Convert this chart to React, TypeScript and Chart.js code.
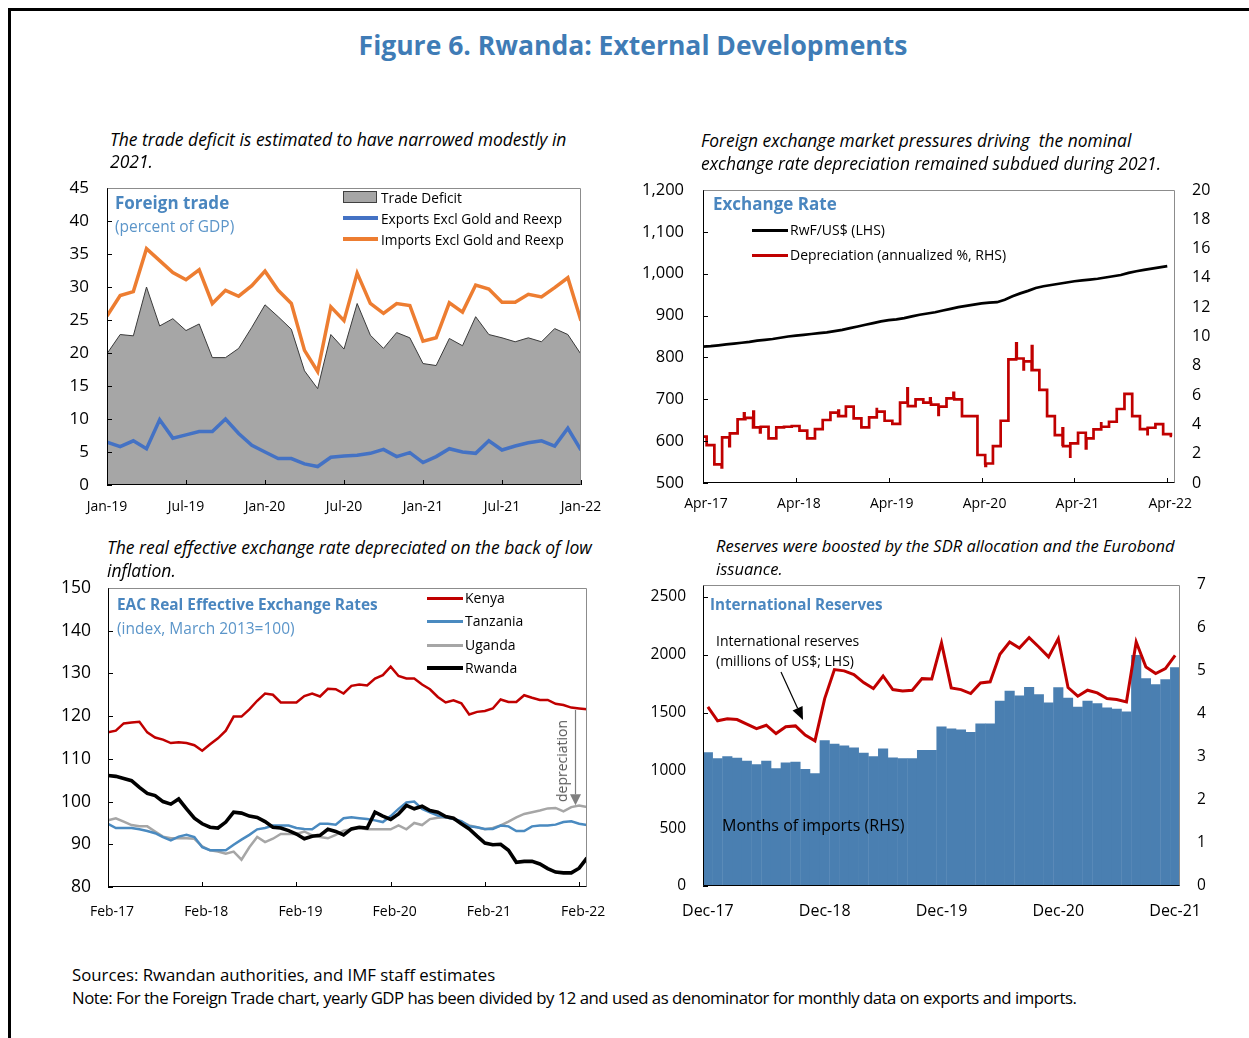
import React, { useEffect, useRef } from 'react';
import { Chart, registerables } from 'chart.js';

Chart.register(...registerables);

const FONT = "'Open Sans', 'DejaVu Sans', sans-serif";
const TITLE_BLUE = '#3F7CB6';
const PANEL_BLUE = '#4A86BF';
const SUB_BLUE = '#5B95C9';

// ---------- Panel 1: Foreign trade (percent of GDP), monthly Jan-19 .. Jan-22 ----------
const tradeTickLabels = ['Jan-19', 'Jul-19', 'Jan-20', 'Jul-20', 'Jan-21', 'Jul-21', 'Jan-22'];
const tradeDeficit = [19.9, 22.8, 22.6, 30.0, 24.1, 25.2, 23.4, 24.4, 19.3, 19.3, 20.7, 23.9, 27.3, 25.5, 23.6, 17.3, 14.6, 22.8, 20.6, 27.5, 22.7, 20.7, 23.1, 22.3, 18.4, 18.1, 22.2, 21.1, 25.5, 22.8, 22.3, 21.7, 22.3, 21.7, 23.7, 22.8, 19.8];
const tradeExports = [6.5, 5.8, 6.7, 5.5, 9.9, 7.1, 7.6, 8.1, 8.1, 10.0, 7.8, 6.0, 5.0, 4.0, 4.0, 3.2, 2.8, 4.2, 4.4, 4.5, 4.8, 5.4, 4.3, 4.9, 3.4, 4.3, 5.5, 5.0, 4.8, 6.7, 5.3, 5.9, 6.4, 6.7, 5.9, 8.6, 5.3];
const tradeImports = [25.6, 28.7, 29.3, 35.8, 34.0, 32.2, 31.1, 32.6, 27.5, 29.5, 28.6, 30.2, 32.4, 29.5, 27.5, 20.4, 17.2, 27.0, 24.9, 32.1, 27.5, 26.0, 27.5, 27.2, 21.8, 22.3, 27.6, 26.2, 30.3, 29.7, 27.7, 27.7, 28.9, 28.5, 29.9, 31.4, 24.9];

// ---------- Panel 2: Exchange rate, monthly from Apr-17 ----------
const fxTickLabels = ['Apr-17', 'Apr-18', 'Apr-19', 'Apr-20', 'Apr-21', 'Apr-22'];
const fxRate = [826, 827, 829, 831, 833, 835, 837, 840, 842, 844, 847, 850, 852, 854, 856, 858, 860, 863, 866, 870, 874, 878, 882, 886, 889, 891, 894, 898, 902, 905, 908, 912, 916, 920, 923, 926, 929, 931, 932, 938, 946, 953, 959, 966, 970, 973, 976, 979, 982, 984, 986, 988, 991, 994, 997, 1002, 1006, 1009, 1012, 1015, 1018];
// annualized depreciation (%), one level per month (levels change mid-month)
const depreciation = [3.16, 2.59, 1.27, 3.11, 3.39, 4.35, 4.45, 3.80, 3.84, 3.04, 3.80, 3.84, 3.89, 3.57, 3.04, 3.68, 4.30, 4.80, 4.57, 5.21, 4.41, 3.80, 4.48, 4.87, 4.25, 4.03, 5.48, 5.25, 5.71, 5.48, 5.35, 5.21, 5.78, 5.71, 4.57, 4.57, 1.91, 1.33, 2.52, 4.25, 8.44, 8.50, 8.30, 7.71, 6.35, 4.57, 3.27, 2.52, 2.70, 3.43, 3.04, 3.66, 3.84, 4.18, 5.05, 6.08, 4.57, 3.68, 3.77, 4.02, 3.34, 3.21];
// short-lived daily spikes (month since Apr-17, value)
const depSpikeMonths = [2.41, 3.40, 5.30, 6.51, 7.37, 17.50, 22.46, 26.42, 29.35, 30.43, 32.37, 36.50, 40.48, 41.43, 42.50, 46.47, 47.46, 49.48, 51.46, 57.45];
const depSpikeValues = [1.07, 2.52, 4.75, 4.87, 3.45, 4.94, 5.05, 6.46, 5.78, 4.64, 6.16, 1.16, 9.53, 7.76, 9.35, 3.73, 1.80, 2.36, 4.07, 3.34];

// ---------- Panel 3: EAC REER, monthly Feb-17 .. Mar-22 ----------
const reerTickLabels = ['Feb-17', 'Feb-18', 'Feb-19', 'Feb-20', 'Feb-21', 'Feb-22'];
const reerKenya = [116.2, 116.6, 118.3, 118.5, 118.7, 116.2, 115.0, 114.5, 113.7, 113.9, 113.7, 113.2, 111.9, 113.4, 114.8, 116.6, 119.9, 119.9, 121.6, 123.6, 125.3, 125.0, 123.2, 123.2, 123.2, 124.7, 125.3, 124.6, 126.4, 126.3, 125.3, 127.1, 127.4, 127.2, 128.8, 129.6, 131.6, 129.4, 128.8, 128.8, 127.4, 126.3, 124.5, 123.2, 123.7, 123.0, 120.4, 121.0, 121.2, 121.8, 123.9, 123.3, 123.3, 124.9, 124.3, 123.8, 123.8, 122.9, 122.6, 122.0, 121.8, 121.6];
const reerTanzania = [94.8, 93.8, 93.8, 93.8, 93.5, 93.1, 92.6, 91.7, 90.9, 91.8, 92.2, 91.7, 89.3, 88.6, 88.6, 88.6, 89.9, 91.1, 92.2, 93.5, 93.8, 94.4, 94.4, 94.4, 93.8, 93.6, 93.5, 94.8, 94.8, 94.6, 96.1, 96.3, 96.1, 95.9, 95.6, 95.2, 96.6, 98.3, 99.8, 100.0, 98.3, 97.5, 96.7, 96.3, 95.9, 95.4, 94.2, 94.0, 93.6, 93.6, 94.4, 94.2, 93.1, 93.1, 94.2, 94.4, 94.4, 94.6, 95.2, 95.4, 94.8, 94.5];
const reerUganda = [95.6, 96.1, 95.3, 94.5, 94.2, 94.2, 93.0, 91.8, 91.4, 91.4, 91.4, 91.3, 89.5, 88.6, 88.3, 87.8, 88.3, 86.4, 89.3, 91.7, 90.5, 91.3, 92.4, 92.4, 92.4, 93.0, 92.1, 91.7, 91.4, 92.2, 93.2, 93.5, 93.8, 93.5, 93.5, 93.5, 93.5, 94.4, 93.5, 95.0, 94.5, 95.9, 96.2, 96.3, 95.9, 95.3, 94.4, 94.0, 93.5, 93.8, 94.4, 95.3, 96.3, 97.1, 97.5, 97.9, 98.4, 98.5, 97.7, 98.7, 99.1, 98.7];
const reerRwanda = [106.1, 105.9, 105.4, 104.9, 103.3, 101.9, 101.4, 100.0, 99.4, 100.6, 98.3, 96.1, 94.8, 94.0, 93.8, 95.2, 97.5, 97.3, 96.6, 96.3, 95.3, 94.0, 93.8, 93.2, 92.4, 91.3, 91.9, 92.1, 93.5, 93.0, 92.2, 93.6, 94.0, 93.8, 97.5, 96.6, 95.8, 97.1, 99.1, 98.3, 98.9, 97.9, 97.5, 96.5, 96.1, 94.8, 93.6, 91.9, 90.3, 89.9, 90.0, 88.6, 85.8, 86.0, 86.0, 85.4, 84.3, 83.5, 83.3, 83.3, 84.4, 86.8];

// ---------- Panel 4: International reserves, monthly Dec-17 .. Dec-21 ----------
const MONTH_NAMES = ['Jan', 'Feb', 'Mar', 'Apr', 'May', 'Jun', 'Jul', 'Aug', 'Sep', 'Oct', 'Nov', 'Dec'];
const resTickLabels = ['Dec-17', 'Dec-18', 'Dec-19', 'Dec-20', 'Dec-21'];
const reservesUSD = [1550, 1429, 1446, 1440, 1400, 1362, 1391, 1319, 1377, 1385, 1305, 1256, 1621, 1872, 1861, 1829, 1760, 1708, 1817, 1699, 1688, 1694, 1794, 1791, 2103, 1714, 1699, 1665, 1757, 1766, 2005, 2111, 2059, 2149, 2068, 1982, 2140, 1717, 1642, 1694, 1671, 1622, 1613, 1593, 2111, 1895, 1838, 1881, 1996];
const monthsOfImports = [3.11, 2.97, 3.02, 2.98, 2.91, 2.83, 2.91, 2.74, 2.87, 2.89, 2.72, 2.62, 3.39, 3.31, 3.27, 3.22, 3.10, 3.02, 3.20, 2.99, 2.97, 2.97, 3.16, 3.16, 3.71, 3.66, 3.64, 3.58, 3.78, 3.78, 4.31, 4.54, 4.43, 4.63, 4.46, 4.27, 4.62, 4.38, 4.17, 4.31, 4.25, 4.15, 4.12, 4.06, 5.37, 4.83, 4.69, 4.81, 5.09];
const resCategories = reservesUSD.map((_, i) => `${MONTH_NAMES[(11 + i) % 12]}-${17 + Math.floor((11 + i) / 12)}`);

Chart.defaults.font.family = FONT;
Chart.defaults.color = '#000';

const pts = (arr: number[]) => arr.map((y, x) => ({ x, y }));
const range = (a: number, b: number, s: number) => { const r: number[] = []; for (let v = a; v <= b + 1e-9; v += s) r.push(v); return r; };
const fixedTicks = (values: number[]) => (scale: any) => { scale.ticks = values.map((v) => ({ value: v })); };
const fitY = (w: number) => (s: any) => { s.width = w; s.paddingTop = 0; s.paddingBottom = 0; };
const fitX = (h: number) => (s: any) => { s.height = h; s.paddingLeft = 0; s.paddingRight = 0; };

function depSeries() {
  const base = depreciation.map((v, k) => ({ x: k === 0 ? 0 : k - 0.53, y: v }));
  base.push({ x: 60.62, y: depreciation[depreciation.length - 1] });
  const valueAt = (x: number) => { let v = base[0].y; for (const p of base) if (p.x <= x) v = p.y; return v; };
  const spikes: { x: number; y: number }[] = [];
  depSpikeMonths.forEach((m, i) => {
    spikes.push({ x: m, y: depSpikeValues[i] });
    spikes.push({ x: m + 0.07, y: valueAt(m + 0.07) });
  });
  return [...base, ...spikes].sort((a, b) => a.x - b.x);
}

const common = (top: number, right: number) => ({
  animation: false,
  responsive: false,
  maintainAspectRatio: false,
  devicePixelRatio: 1,
  events: [],
  layout: { padding: { top, right, left: 0, bottom: 0 } },
  plugins: { legend: { display: false }, tooltip: { enabled: false } },
  elements: { point: { radius: 0 } },
});

function framePlugin(cfg: { tickLen: number; xTicks: boolean; yTicks: boolean; ticksBehind?: boolean; extra?: (c: any) => void }) {
  const drawTicks = (chart: any) => {
    const { ctx, chartArea: a } = chart;
    ctx.save();
    ctx.strokeStyle = '#000';
    ctx.lineWidth = 1;
    ctx.beginPath();
    if (cfg.xTicks) {
      const xs = chart.scales.x;
      xs.ticks.forEach((t: any, i: number) => {
        if (t.label == null || t.label === '') return;
        const px = Math.round(xs.getPixelForTick(i)) + 0.5;
        ctx.moveTo(px, a.bottom);
        ctx.lineTo(px, a.bottom - cfg.tickLen);
      });
    }
    if (cfg.yTicks) {
      const ys = chart.scales.y;
      ys.ticks.forEach((_t: any, i: number) => {
        const py = Math.round(ys.getPixelForTick(i)) + 0.5;
        ctx.moveTo(a.left, py);
        ctx.lineTo(a.left + cfg.tickLen, py);
      });
    }
    ctx.stroke();
    ctx.restore();
  };
  const drawFrame = (chart: any) => {
    const { ctx, chartArea: a } = chart;
    const top = Math.round(a.top) + 0.5;
    const right = Math.round(a.right) - 0.5;
    const left = Math.round(a.left) + 0.5;
    const bottom = Math.round(a.bottom) - 0.5;
    ctx.save();
    ctx.lineWidth = 1;
    ctx.strokeStyle = '#8C8C8C';
    ctx.beginPath();
    ctx.moveTo(left, top);
    ctx.lineTo(right, top);
    ctx.lineTo(right, bottom);
    ctx.stroke();
    ctx.strokeStyle = '#000';
    ctx.beginPath();
    ctx.moveTo(left, top);
    ctx.lineTo(left, bottom);
    ctx.lineTo(right, bottom);
    ctx.stroke();
    ctx.restore();
  };
  return {
    id: 'frame',
    beforeDatasetsDraw(chart: any) { if (cfg.ticksBehind) drawTicks(chart); },
    afterDatasetsDraw(chart: any) {
      if (!cfg.ticksBehind) drawTicks(chart);
      drawFrame(chart);
      if (cfg.extra) cfg.extra(chart);
    },
  };
}

function arrow(ctx: any, x0: number, y0: number, x1: number, y1: number, color: string, len: number, half: number, lw: number) {
  const dx = x1 - x0, dy = y1 - y0;
  const d = Math.hypot(dx, dy);
  const ux = dx / d, uy = dy / d;
  const bx = x1 - ux * len, by = y1 - uy * len;
  ctx.save();
  ctx.strokeStyle = color;
  ctx.fillStyle = color;
  ctx.lineWidth = lw;
  ctx.beginPath();
  ctx.moveTo(x0, y0);
  ctx.lineTo(bx, by);
  ctx.stroke();
  ctx.beginPath();
  ctx.moveTo(x1, y1);
  ctx.lineTo(bx - uy * half, by + ux * half);
  ctx.lineTo(bx + uy * half, by - ux * half);
  ctx.closePath();
  ctx.fill();
  ctx.restore();
}

const noGrid = { display: false, drawTicks: false, tickLength: 0 };
const noBorder = { display: false };

// canvas placements (page pixels)
const P1 = { left: 30, top: 168, width: 581, height: 357 };
const P2 = { left: 620, top: 170, width: 600, height: 353 };
const P3 = { left: 30, top: 568, width: 587, height: 359 };
const P4 = { left: 620, top: 565, width: 605, height: 366 };

function tradeConfig() {
  return {
    type: 'line',
    data: {
      datasets: [
        { data: pts(tradeImports), borderColor: '#ED7D31', borderWidth: 3.5, pointRadius: 0, fill: false, order: 0 },
        { data: pts(tradeExports), borderColor: '#4472C4', borderWidth: 3.5, pointRadius: 0, fill: false, order: 1 },
        { data: pts(tradeDeficit), borderColor: '#3A3A3A', borderWidth: 1, backgroundColor: '#A6A6A6', fill: 'origin', pointRadius: 0, order: 2 },
      ],
    },
    options: {
      ...common(20, 30),
      scales: {
        x: {
          type: 'linear', min: 0, max: 36, grid: noGrid, border: noBorder,
          afterBuildTicks: fixedTicks(range(0, 36, 6)),
          afterFit: fitX(40),
          ticks: { font: { size: 14 }, padding: 14, maxRotation: 0, autoSkip: false, callback: (_v: any, i: number) => tradeTickLabels[i] },
        },
        y: {
          min: 0, max: 45, grid: noGrid, border: noBorder,
          afterBuildTicks: fixedTicks(range(0, 45, 5)),
          afterFit: fitY(77),
          ticks: { font: { size: 17 }, padding: 18, callback: (v: number) => String(v) },
        },
      },
    },
    plugins: [framePlugin({ tickLen: 5, xTicks: true, yTicks: true })],
  };
}

function fxConfig() {
  return {
    type: 'line',
    data: {
      datasets: [
        { data: pts(fxRate), yAxisID: 'y', borderColor: '#000', borderWidth: 2.7, pointRadius: 0, fill: false, order: 0 },
        { data: depSeries(), yAxisID: 'y2', borderColor: '#C00000', borderWidth: 2.7, stepped: true, pointRadius: 0, fill: false, order: 1 },
      ],
    },
    options: {
      ...common(20, 0),
      scales: {
        x: {
          type: 'linear', min: 0, max: 61, grid: noGrid, border: noBorder,
          afterBuildTicks: fixedTicks(range(0, 60, 12)),
          afterFit: fitX(40),
          ticks: { font: { size: 14 }, padding: 13, labelOffset: 3, maxRotation: 0, autoSkip: false, callback: (_v: any, i: number) => fxTickLabels[i] },
        },
        y: {
          position: 'left', min: 500, max: 1200, grid: noGrid, border: noBorder,
          afterBuildTicks: fixedTicks(range(500, 1200, 100)),
          afterFit: fitY(83),
          ticks: { font: { size: 16.5 }, padding: 19, callback: (v: number) => v.toLocaleString('en-US') },
        },
        y2: {
          position: 'right', min: 0, max: 20, grid: noGrid, border: noBorder,
          afterBuildTicks: fixedTicks(range(0, 20, 2)),
          afterFit: fitY(45),
          ticks: { font: { size: 16 }, padding: 17, callback: (v: number) => String(v) },
        },
      },
    },
    plugins: [framePlugin({ tickLen: 5, xTicks: true, yTicks: true })],
  };
}

function reerConfig() {
  return {
    type: 'line',
    data: {
      datasets: [
        { data: pts(reerRwanda), borderColor: '#000', borderWidth: 3.6, pointRadius: 0, fill: false, order: 0 },
        { data: pts(reerKenya), borderColor: '#C00000', borderWidth: 2.5, pointRadius: 0, fill: false, order: 1 },
        { data: pts(reerTanzania), borderColor: '#4A8AC0', borderWidth: 2.5, pointRadius: 0, fill: false, order: 2 },
        { data: pts(reerUganda), borderColor: '#A6A6A6', borderWidth: 2.5, pointRadius: 0, fill: false, order: 3 },
      ],
    },
    options: {
      ...common(20, 30),
      scales: {
        x: {
          type: 'linear', min: 0, max: 61, grid: noGrid, border: noBorder,
          afterBuildTicks: fixedTicks(range(0, 60, 12)),
          afterFit: fitX(40),
          ticks: { font: { size: 14 }, padding: 17, labelOffset: 4, maxRotation: 0, autoSkip: false, callback: (_v: any, i: number) => reerTickLabels[i] },
        },
        y: {
          min: 80, max: 150, grid: noGrid, border: noBorder,
          afterBuildTicks: fixedTicks(range(80, 150, 10)),
          afterFit: fitY(78),
          ticks: { font: { size: 17.5 }, padding: 17, callback: (v: number) => String(v) },
        },
      },
    },
    plugins: [framePlugin({
      tickLen: 5, xTicks: true, yTicks: true,
      extra: (chart: any) => {
        const xs = chart.scales.x, ys = chart.scales.y;
        const px = Math.round(xs.getPixelForValue(59.5)) + 0.5;
        const y0 = ys.getPixelForValue((reerKenya[59] + reerKenya[60]) / 2) + 2;
        const y1 = ys.getPixelForValue((reerUganda[59] + reerUganda[60]) / 2) - 1;
        arrow(chart.ctx, px, y0, px, y1, '#7F7F7F', 11, 5.5, 1.2);
      },
    })],
  };
}

function reservesConfig() {
  return {
    type: 'bar',
    data: {
      labels: resCategories,
      datasets: [
        { type: 'line', data: reservesUSD, yAxisID: 'y', borderColor: '#C00000', borderWidth: 3, pointRadius: 0, fill: false, order: 0 },
        { type: 'bar', data: monthsOfImports, yAxisID: 'y2', backgroundColor: '#4A7FB1', borderWidth: 0, barPercentage: 1.04, categoryPercentage: 1, order: 1 },
      ],
    },
    options: {
      ...common(20, 0),
      scales: {
        x: {
          type: 'category', offset: true, grid: noGrid, border: noBorder,
          afterFit: fitX(45),
          ticks: {
            font: { size: 16 }, padding: 16, maxRotation: 0, autoSkip: false,
            callback: (_v: any, i: number) => (resTickLabels.includes(resCategories[i]) ? resCategories[i] : null),
          },
        },
        y: {
          position: 'left', min: 0, max: 2604, grid: noGrid, border: noBorder,
          afterBuildTicks: fixedTicks(range(0, 2500, 500)),
          afterFit: fitY(83),
          ticks: { font: { size: 15.5 }, padding: 17, callback: (v: number) => String(v) },
        },
        y2: {
          position: 'right', min: 0, max: 7, grid: noGrid, border: noBorder,
          afterBuildTicks: fixedTicks(range(0, 7, 1)),
          afterFit: fitY(45),
          ticks: { font: { size: 15.5 }, padding: 17, callback: (v: number) => String(v) },
        },
      },
    },
    plugins: [framePlugin({
      tickLen: 5, xTicks: true, yTicks: true, ticksBehind: true,
      extra: (chart: any) => {
        // pointer from the "International reserves" label to the red line
        arrow(chart.ctx, 781 - P4.left, 672 - P4.top, 803 - P4.left, 720 - P4.top, '#000', 13, 5.5, 1.2);
      },
    })],
  };
}

function ChartCanvas({ place, build }: any) {
  const ref = useRef<HTMLCanvasElement>(null);
  useEffect(() => {
    const chart = new Chart(ref.current as any, build() as any);
    return () => chart.destroy();
  }, []);
  return (
    <canvas
      ref={ref}
      width={place.width}
      height={place.height}
      style={{ position: 'absolute', left: place.left, top: place.top, width: place.width, height: place.height }}
    />
  );
}

function Txt({ x, y, size, children, bold = false, italic = false, color = '#000', center = false, ls = 0, ws = 0 }: any) {
  const lh = Math.round(size * 1.4);
  return (
    <div
      style={{
        position: 'absolute', left: x, top: y - lh / 2, fontSize: size, lineHeight: `${lh}px`,
        fontWeight: bold ? 700 : 400, fontStyle: italic ? 'italic' : 'normal', color,
        whiteSpace: 'pre', transform: center ? 'translateX(-50%)' : undefined,
        letterSpacing: ls, wordSpacing: ws,
      }}
    >
      {children}
    </div>
  );
}

function Swatch({ x, y, w, h, color, border }: any) {
  return (
    <div style={{ position: 'absolute', left: x, top: y - h / 2, width: w, height: h, background: color, boxSizing: 'border-box', border: border ? `1px solid ${border}` : undefined }} />
  );
}

export default function App() {
  return (
    <div style={{ position: 'fixed', left: 0, top: 0, width: 1249, height: 1038, overflow: 'hidden', background: '#fff', fontFamily: FONT, color: '#000' }}>
      <div style={{ position: 'absolute', left: 8, top: 8, width: 1260, height: 1060, borderTop: '3px solid #000', borderLeft: '3px solid #000' }} />

      <Txt x={633} y={45} size={26.5} bold color={TITLE_BLUE} center>Figure 6. Rwanda: External Developments</Txt>

      <ChartCanvas place={P1} build={tradeConfig} />
      <ChartCanvas place={P2} build={fxConfig} />
      <ChartCanvas place={P3} build={reerConfig} />
      <ChartCanvas place={P4} build={reservesConfig} />

      {/* Panel 1 */}
      <Txt x={110} y={139} size={17.5} italic>The trade deficit is estimated to have narrowed modestly in</Txt>
      <Txt x={110} y={161} size={17.5} italic>2021.</Txt>
      <Txt x={115} y={203} size={17} bold color={PANEL_BLUE}>Foreign trade</Txt>
      <Txt x={115} y={226} size={15.5} color={SUB_BLUE}>(percent of GDP)</Txt>
      <Swatch x={343} y={197} w={34} h={12} color="#A6A6A6" border="#404040" />
      <Txt x={381} y={197} size={13.7}>Trade Deficit</Txt>
      <Swatch x={343} y={218} w={35} h={4} color="#4472C4" />
      <Txt x={381} y={218} size={13.7}>Exports Excl Gold and Reexp</Txt>
      <Swatch x={343} y={239} w={35} h={4} color="#ED7D31" />
      <Txt x={381} y={239} size={13.7}>Imports Excl Gold and Reexp</Txt>

      {/* Panel 2 */}
      <Txt x={701} y={140} size={17.4} italic>Foreign exchange market pressures driving  the nominal</Txt>
      <Txt x={701} y={163} size={17.4} italic>exchange rate depreciation remained subdued during 2021.</Txt>
      <Txt x={713} y={204} size={17} bold color={PANEL_BLUE}>Exchange Rate</Txt>
      <Swatch x={752} y={230} w={36} h={3} color="#000" />
      <Txt x={790} y={230} size={14}>RwF/US$ (LHS)</Txt>
      <Swatch x={752} y={255} w={36} h={3} color="#C00000" />
      <Txt x={790} y={255} size={14}>Depreciation (annualized %, RHS)</Txt>

      {/* Panel 3 */}
      <Txt x={107} y={547} size={17.5} italic>The real effective exchange rate depreciated on the back of low</Txt>
      <Txt x={107} y={570} size={17.5} italic>inflation.</Txt>
      <Txt x={117} y={605} size={15.4} bold color={PANEL_BLUE}>EAC Real Effective Exchange Rates</Txt>
      <Txt x={117} y={628} size={15.5} color={SUB_BLUE}>(index, March 2013=100)</Txt>
      <Swatch x={427} y={598} w={36} h={3} color="#C00000" />
      <Txt x={465} y={598} size={14}>Kenya</Txt>
      <Swatch x={427} y={621} w={36} h={3} color="#4A8AC0" />
      <Txt x={465} y={621} size={14}>Tanzania</Txt>
      <Swatch x={427} y={645} w={36} h={3} color="#A6A6A6" />
      <Txt x={465} y={645} size={14}>Uganda</Txt>
      <Swatch x={427} y={668} w={36} h={4} color="#000" />
      <Txt x={465} y={668} size={14}>Rwanda</Txt>
      <div style={{ position: 'absolute', left: 562, top: 761, transform: 'translate(-50%, -50%) rotate(-90deg)', fontSize: 14, lineHeight: '18px', color: '#595959', whiteSpace: 'pre' }}>depreciation</div>

      {/* Panel 4 */}
      <Txt x={716} y={545} size={16.5} italic>Reserves were boosted by the SDR allocation and the Eurobond</Txt>
      <Txt x={716} y={568} size={16.5} italic>issuance.</Txt>
      <Txt x={710} y={604} size={15.2} bold color={PANEL_BLUE}>International Reserves</Txt>
      <Txt x={716} y={641} size={14}>International reserves</Txt>
      <Txt x={716} y={661} size={14}>(millions of US$; LHS)</Txt>
      <Txt x={722} y={825} size={16}>Months of imports (RHS)</Txt>

      {/* Footer */}
      <Txt x={72} y={975} size={16.8}>Sources: Rwandan authorities, and IMF staff estimates</Txt>
      <Txt x={72} y={998} size={16.8} ls={-0.5}>Note: For the Foreign Trade chart, yearly GDP has been divided by 12 and used as denominator for monthly data on exports and imports.</Txt>
    </div>
  );
}
